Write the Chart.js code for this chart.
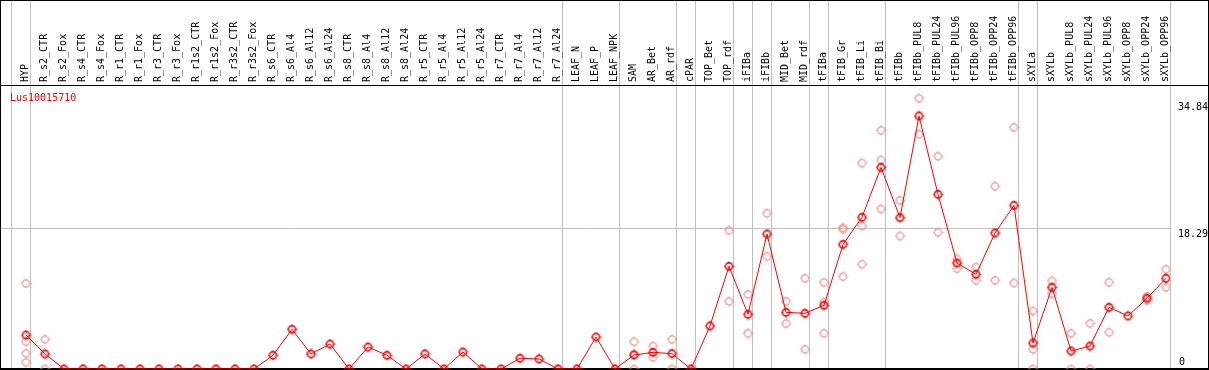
<!DOCTYPE html>
<html>
<head>
<meta charset="utf-8">
<script src="https://cdn.jsdelivr.net/npm/chart.js@4/dist/chart.umd.min.js"></script>
<style>
html,body{margin:0;padding:0;background:#fff;}
canvas{display:block;}
</style>
</head>
<body>
<canvas id="c" width="1209" height="370"></canvas>
<script>
const geneName = "Lus10015710";
const categories = ["HYP","R_s2_CTR","R_s2_Fox","R_s4_CTR","R_s4_Fox","R_r1_CTR","R_r1_Fox","R_r3_CTR","R_r3_Fox","R_r1s2_CTR","R_r1s2_Fox","R_r3s2_CTR","R_r3s2_Fox","R_s6_CTR","R_s6_Al4","R_s6_Al12","R_s6_Al24","R_s8_CTR","R_s8_Al4","R_s8_Al12","R_s8_Al24","R_r5_CTR","R_r5_Al4","R_r5_Al12","R_r5_Al24","R_r7_CTR","R_r7_Al4","R_r7_Al12","R_r7_Al24","LEAF_N","LEAF_P","LEAF_NPK","SAM","AR_Bet","AR_rdf","cPAR","TOP_Bet","TOP_rdf","iFIBa","iFIBb","MID_Bet","MID_rdf","tFIBa","tFIB_Gr","tFIB_Li","tFIB_Bi","tFIBb","tFIBb_PUL8","tFIBb_PUL24","tFIBb_PUL96","tFIBb_OPP8","tFIBb_OPP24","tFIBb_OPP96","sXYLa","sXYLb","sXYLb_PUL8","sXYLb_PUL24","sXYLb_PUL96","sXYLb_OPP8","sXYLb_OPP24","sXYLb_OPP96"];
const means = [4.41,1.95,0,0,0,0,0,0,0,0,0,0,0,1.78,5.15,1.95,3.24,0,2.85,1.78,0,1.95,0,2.2,0,0,1.39,1.30,0,0,4.15,0,1.82,2.16,1.99,0,5.58,13.32,7.09,17.51,7.35,7.22,8.26,16.17,19.68,26.16,19.63,32.82,22.66,13.75,12.28,17.64,21.23,3.37,10.6,2.33,2.98,8.0,6.88,9.17,11.76];
const replicates = [
 [11.1,3.54,2.03,0.87],[3.85,0],[],[],[],[],[],[],[],[],[],[],[],
 [],[],[],[],[],[],[],[],[],[],[],[],[],[],[],[],
 [],[],[],
 [3.54,1.9,0],[2.98,1.51],[3.85,0],
 [],
 [],[17.99,8.78],
 [9.69,4.63],
 [20.2,14.62],
 [8.78,5.88],[11.76,2.55],
 [11.24,8.69,4.63],
 [18.33,18.12,11.98],[26.72,18.55,13.58],[30.96,27.11,20.75],
 [21.88,17.25],[35.11,30.44],[27.59,17.73],[14.27,13.01],[13.23,11.5],[23.7,11.5],[31.35,11.16],
 [7.52,2.55,0],
 [11.42,9.77],[4.63,0],[5.92,0],[11.24,4.76],[],[9.43,8.91],[12.93,10.6]
];
const groupStarts = [0,1,29,32,35,36,38,39,40,42,43,46,53,54,61];
const yTickValues = [34.84, 18.29, 0];
const yGridValues = [18.29];

const meanPoints = means.map((v,i)=>({x:i,y:v}));
const repPoints = [];
replicates.forEach((arr,i)=>arr.forEach(v=>repPoints.push({x:i,y:v})));

function makeMarker(color, lw){
  const s = 11, c = document.createElement('canvas');
  c.width = s; c.height = s;
  const g = c.getContext('2d');
  g.strokeStyle = color; g.lineWidth = lw;
  g.beginPath(); g.arc(5.5,5.5,3.6,0,Math.PI*2); g.stroke();
  g.lineWidth = 1;
  g.beginPath();
  g.moveTo(5.5,0.5); g.lineTo(5.5,2);
  g.moveTo(5.5,9); g.lineTo(5.5,10.5);
  g.moveTo(0.5,5.5); g.lineTo(2,5.5);
  g.moveTo(9,5.5); g.lineTo(10.5,5.5);
  g.stroke();
  return c;
}
const redMarker = makeMarker('#ff0000', 1.6);
const pinkMarker = makeMarker('rgba(236,140,140,0.9)', 1.2);

const FONT = '10px "DejaVu Sans Mono", monospace';
const OFF = 15/19;

const decor = {
  id:'decor',
  beforeDatasetsDraw(chart){
    const ctx = chart.ctx, xs = chart.scales.x, ys = chart.scales.y, a = chart.chartArea;
    ctx.save();
    ctx.fillStyle = '#fff';
    ctx.fillRect(0,0,chart.width,chart.height);
    ctx.strokeStyle = '#c0c0c0'; ctx.lineWidth = 1;
    groupStarts.forEach(k=>{
      const px = Math.round(xs.getPixelForValue(k-OFF))+0.5;
      ctx.beginPath(); ctx.moveTo(px,0); ctx.lineTo(px,a.bottom); ctx.stroke();
    });
    yGridValues.forEach(v=>{
      const py = Math.round(ys.getPixelForValue(v))+0.5;
      ctx.beginPath(); ctx.moveTo(a.left,py); ctx.lineTo(a.right,py); ctx.stroke();
    });
    // frame
    ctx.strokeStyle = '#000'; ctx.lineWidth = 1;
    ctx.strokeRect(0.5,0.5,chart.width-1,chart.height-1);
    ctx.beginPath(); ctx.moveTo(0,a.top+0.5); ctx.lineTo(chart.width,a.top+0.5); ctx.stroke();
    const by = Math.round(ys.getPixelForValue(0));
    ctx.lineWidth = 2;
    ctx.beginPath(); ctx.moveTo(0,by); ctx.lineTo(chart.width,by); ctx.stroke();
    // category labels
    ctx.fillStyle = '#000'; ctx.font = FONT;
    ctx.textAlign = 'left'; ctx.textBaseline = 'middle';
    categories.forEach((lab,i)=>{
      const px = xs.getPixelForValue(i);
      ctx.save();
      ctx.translate(Math.round(px)-0.5, a.top-3);
      ctx.rotate(-Math.PI/2);
      ctx.fillText(lab,0,0);
      ctx.restore();
    });
    // title
    ctx.fillStyle = '#ff0000';
    ctx.textBaseline = 'middle';
    ctx.fillText(geneName, 10, a.top+13);
    // y tick labels
    ctx.fillStyle = '#000';
    yTickValues.forEach(v=>{
      const py = ys.getPixelForValue(v);
      if (v === 0) { ctx.textBaseline = 'bottom'; ctx.fillText(String(v), a.right+9, py-2); }
      else if (v === yTickValues[0]) { ctx.textBaseline = 'middle'; ctx.fillText(v.toFixed(2), a.right+8, py+7); }
      else { ctx.textBaseline = 'top'; ctx.fillText(v.toFixed(2), a.right+8, py+1); }
    });
    ctx.restore();
  }
};

new Chart(document.getElementById('c'), {
  type:'scatter',
  data:{
    datasets:[
      {label:'replicates', data:repPoints, showLine:false, pointStyle:pinkMarker, pointRadius:5, order:2},
      {label:'mean', data:meanPoints, showLine:true, borderColor:'#ff0000', borderWidth:1, pointStyle:redMarker, pointRadius:5, order:1}
    ]
  },
  options:{
    responsive:false, animation:false, devicePixelRatio:1,
    layout:{autoPadding:false, padding:{left:1,right:39,top:85,bottom:1}},
    plugins:{legend:{display:false}, tooltip:{enabled:false}},
    scales:{
      x:{type:'linear', display:false, min:-25/19, max:(1170-26)/19},
      y:{type:'linear', display:false, min:0, max:36.84}
    }
  },
  plugins:[decor]
});
</script>
</body>
</html>
